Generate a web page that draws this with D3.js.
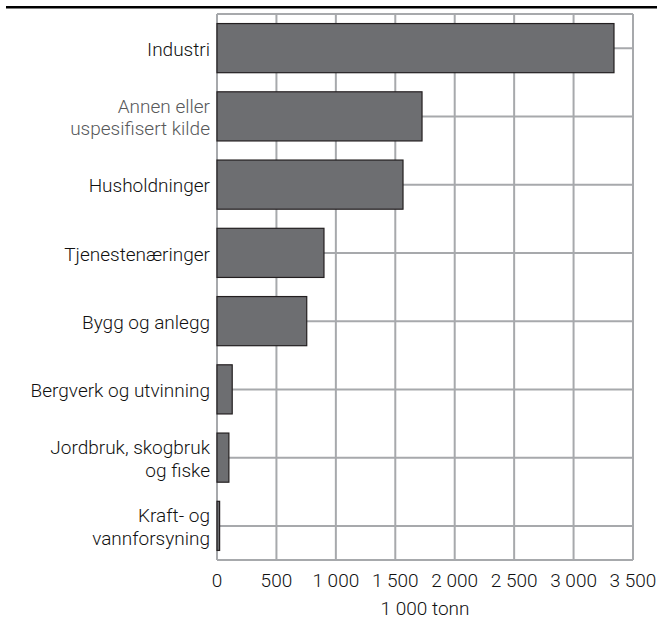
<!DOCTYPE html>
<html><head><meta charset="utf-8">
<script src="https://cdn.jsdelivr.net/npm/d3@7"></script>
<style>body{margin:0;background:#fff}svg{display:block}</style>
</head><body>
<svg id="c" width="657" height="620"></svg>
<script>
const categories = [
  ["Industri"],
  ["Annen eller", "uspesifisert kilde"],
  ["Husholdninger"],
  ["Tjenestenæringer"],
  ["Bygg og anlegg"],
  ["Bergverk og utvinning"],
  ["Jordbruk, skogbruk", "og fiske"],
  ["Kraft- og", "vannforsyning"]
];
const values = [3340, 1725, 1565, 900, 755, 128, 100, 22];
const tickValues = [0, 500, 1000, 1500, 2000, 2500, 3000, 3500];
const tickLabels = ["0", "500", "1 000", "1 500", "2 000", "2 500", "3 000", "3 500"];
const axisTitle = "1 000 tonn";

const svg = d3.select("#c");
const font = "Roboto, 'Open Sans', sans-serif";
const fs = 19;
const lineGap = 22.5;
const L = 217, R = 633, T = 14, B = 560;
const x = d3.scaleLinear().domain([0, 3500]).range([L, R]);
const y = d3.scaleBand().domain(d3.range(categories.length)).range([T, B]).paddingInner(0.28).paddingOuter(0.14);
const band = (B - T) / categories.length;

// top rule
svg.append("line").attr("x1", 6).attr("x2", 657).attr("y1", 7.2).attr("y2", 7.2)
  .attr("stroke", "#000").attr("stroke-width", 2.5);

const grid = svg.append("g").attr("stroke", "#a7a9ac").attr("stroke-width", 2);
tickValues.forEach(v => grid.append("line").attr("x1", x(v)).attr("x2", x(v)).attr("y1", T).attr("y2", B));
grid.append("line").attr("x1", L).attr("x2", R).attr("y1", T).attr("y2", T);
grid.append("line").attr("x1", L).attr("x2", R).attr("y1", B).attr("y2", B);
categories.forEach((c, i) => {
  const yc = T + band * (i + 0.5);
  grid.append("line").attr("x1", L).attr("x2", R).attr("y1", yc).attr("y2", yc);
});

svg.append("g").selectAll("rect").data(values).join("rect")
  .attr("x", x(0)).attr("y", (d, i) => y(i))
  .attr("width", d => x(d) - x(0)).attr("height", y.bandwidth())
  .attr("fill", "#6d6e71").attr("stroke", "#231f20").attr("stroke-width", 1.2);

const lab = svg.append("g").attr("font-family", font).attr("font-size", fs).attr("font-weight", 300).attr("text-anchor", "end");
categories.forEach((lines, i) => {
  const yc = T + band * (i + 0.5) + 1;
  const n = lines.length;
  lines.forEach((s, k) => {
    lab.append("text").attr("x", 210)
      .attr("fill", i === 1 ? "#58595b" : "#111111")
      .attr("y", yc + (k - (n - 1) / 2) * lineGap).attr("dy", "0.35em").text(s);
  });
});

const ax = svg.append("g").attr("font-family", font).attr("font-size", fs).attr("font-weight", 300).attr("fill", "#111111").attr("text-anchor", "middle");
tickValues.forEach((v, i) => ax.append("text").attr("x", x(v)).attr("y", 587).text(tickLabels[i]));
ax.append("text").attr("x", (L + R) / 2).attr("y", 615).text(axisTitle);
</script>
</body></html>
